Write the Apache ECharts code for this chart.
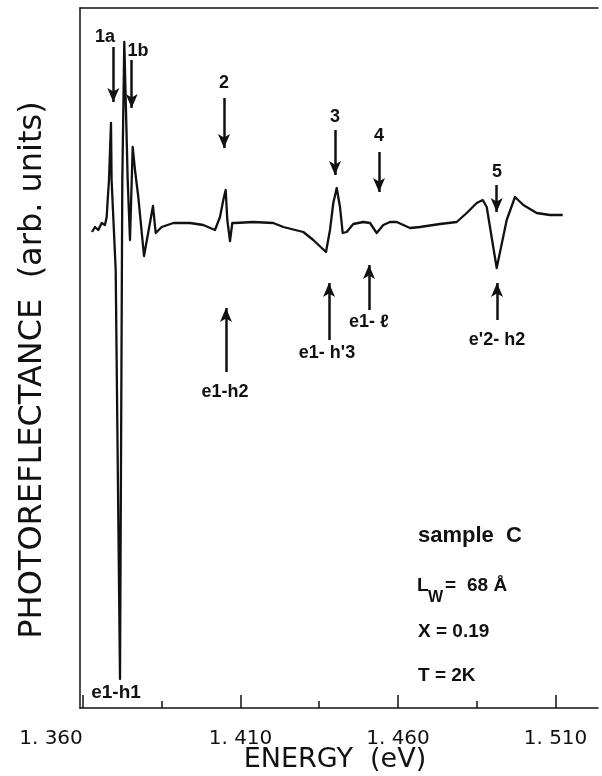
<!DOCTYPE html>
<html><head><meta charset="utf-8">
<script src="https://cdn.jsdelivr.net/npm/echarts@6/dist/echarts.min.js"></script>
<style>html,body{margin:0;padding:0;background:#fff;}#c{width:602px;height:776px;}</style>
</head><body><div id="c"></div>
<script>
// Spectrum (energy in eV, photoreflectance in arbitrary units)
const energy = [1.36286,1.36381,1.36486,1.36594,1.36698,1.36752,1.36784,1.36825,1.36889,1.36908,1.37038,1.37175,1.37248,1.37311,1.37419,1.37492,1.37578,1.37651,1.37756,1.37937,1.38222,1.38308,1.38498,1.38867,1.39397,1.39819,1.40190,1.40349,1.40454,1.40530,1.40581,1.40667,1.40740,1.40825,1.41406,1.42041,1.42359,1.42994,1.43311,1.43714,1.43841,1.43946,1.44054,1.44159,1.44244,1.44371,1.44581,1.44898,1.45111,1.45324,1.45533,1.45746,1.45959,1.46381,1.46698,1.47333,1.47863,1.48181,1.48498,1.48689,1.48816,1.49133,1.49451,1.49714,1.49978,1.50403,1.50825,1.51229];
const signal = [-7,-2,-5,2,0,8,25,45,102,45,-45,-454,45,183,45,-15,78,55,28,-31,19,-8,-2,2,2,0,-5,8,25,35,5,-16,2,2,3,2,-2,-7,-15,-27,-5,22,37,18,-8,-7,1,3,2,-8,0,3,3,-3,-2,1,3,12,22,25,18,-43,5,28,20,12,10,10];

// Axis
const xMin = 1.35905, xMax = 1.52349;
const yMin = -483, yMax = 217;
const tickMajor = [1.360, 1.410, 1.460, 1.510];
const tickMinor = [1.385, 1.435, 1.485];

// Peak markers (downward arrows)
const peakNames = ['1a','1b','2','3','4','5'];
const peakE = [1.36962,1.37546,1.40476,1.44000,1.45397,1.49133];
const peakTail = [178,165,127,95,73,40];
const peakTip = [123,117,77,50,33,13];
const peakLabelE = [1.36698,1.37746,1.40476,1.44000,1.45397,1.49143];
const peakLabelY = [188,174,142,108,89,53];

// Transition markers (upward arrows)
const transNames = ['e1-h2', "e1- h'3", 'e1- \u2113', "e'2- h2"];
const transE = [1.40540,1.43810,1.45079,1.49143];
const transTail = [-147,-115,-85,-95];
const transTip = [-83,-58,-40,-58];
const transLabelE = [1.40508,1.43746,1.45079,1.49143];
const transLabelY = [-167,-128,-97,-115];
const bottomLabel = {name:'e1-h1', e:1.37048, y:-468};

const chart = echarts.init(document.getElementById('c'), null, {renderer:'canvas'});
const ink = '#111';
const arrows = [];
peakE.forEach((e,i)=>arrows.push([{coord:[e,peakTail[i]]},{coord:[e,peakTip[i]]}]));
transE.forEach((e,i)=>arrows.push([{coord:[e,transTail[i]]},{coord:[e,transTip[i]]}]));

const labelData = [];
peakNames.forEach((n,i)=>labelData.push({name:n, value:[peakLabelE[i], peakLabelY[i]], label:{fontSize:18}}));
transNames.forEach((n,i)=>labelData.push({name:n, value:[transLabelE[i], transLabelY[i]], label:{fontSize:18}}));
labelData.push({name:bottomLabel.name, value:[bottomLabel.e, bottomLabel.y], label:{fontSize:19}});

const bold = 'Liberation Sans, Arial, sans-serif';
const tickFont = {fontSize:20, fontFamily:'DejaVu Sans', color:ink};
chart.setOption({
  animation:false,
  backgroundColor:'#fff',
  grid:{left:80, right:4, top:8, bottom:68, outerBoundsMode:'none', containLabel:false},
  xAxis:[
    {type:'value', min:xMin, max:xMax, position:'bottom',
     axisLine:{show:true, onZero:false, lineStyle:{color:ink, width:1.5}},
     axisTick:{show:true, inside:true, length:13, customValues:tickMajor, lineStyle:{color:ink, width:1.5}},
     axisLabel:{show:true, customValues:tickMajor, margin:21, fontSize:20, color:ink, fontFamily:'DejaVu Sans',
       formatter:v=>{
         const s = v.toFixed(3).replace('.', '. ');
         return v < 1.37 ? '{first|' + s + '}' : '{n|' + s + '}';
       },
       rich:{
         first:Object.assign({padding:[0,64,0,0]}, tickFont),
         n:Object.assign({}, tickFont)
       }},
     splitLine:{show:false}},
    {type:'value', min:xMin, max:xMax, position:'bottom',
     axisLine:{show:false, onZero:false},
     axisTick:{show:true, inside:true, length:7, customValues:tickMinor, lineStyle:{color:ink, width:1.5}},
     axisLabel:{show:false}, splitLine:{show:false}},
    {type:'value', min:xMin, max:xMax, position:'top',
     axisLine:{show:true, onZero:false, lineStyle:{color:ink, width:1.5}},
     axisTick:{show:false}, axisLabel:{show:false}, splitLine:{show:false}}
  ],
  yAxis:{type:'value', min:yMin, max:yMax, position:'left',
    axisLine:{show:true, onZero:false, lineStyle:{color:ink, width:1.5}},
    axisTick:{show:false}, axisLabel:{show:false}, splitLine:{show:false}},
  series:[
    {type:'line', xAxisIndex:0, data:energy.map((e,i)=>[e, signal[i]]), showSymbol:false, symbol:'none',
     lineStyle:{color:ink, width:2.3, join:'round'},
     markLine:{silent:true, symbol:['none','arrow'], symbolSize:[9,14], animation:false,
       label:{show:false}, lineStyle:{color:ink, width:2.5, type:'solid', opacity:1},
       emphasis:{disabled:true}, data:arrows}},
    {type:'scatter', xAxisIndex:0, data:labelData, symbolSize:0, silent:true,
     itemStyle:{opacity:1},
     label:{show:true, position:'inside', formatter:p=>p.name, color:ink, opacity:1, fontWeight:'bold', fontFamily:bold}}
  ],
  graphic:[
    {type:'text', x:33, y:370, rotation:Math.PI/2,
     style:{text:'PHOTOREFLECTANCE  (arb. units)', fill:ink, font:'32px "DejaVu Sans"', align:'center', verticalAlign:'middle'}},
    {type:'text', x:335, y:760,
     style:{text:'ENERGY  (eV)', fill:ink, font:'27px "DejaVu Sans"', align:'center', verticalAlign:'middle'}},
    {type:'text', x:470, y:536,
     style:{text:'sample  C', fill:ink, font:'bold 22px "Liberation Sans"', align:'center', verticalAlign:'middle'}},
    {type:'text', x:417, y:586,
     style:{text:'L', fill:ink, font:'bold 19px "Liberation Sans"', align:'left', verticalAlign:'middle'}},
    {type:'text', x:428, y:598,
     style:{text:'W', fill:ink, font:'bold 16px "Liberation Sans"', align:'left', verticalAlign:'middle'}},
    {type:'text', x:445, y:586,
     style:{text:'=', fill:ink, font:'bold 19px "Liberation Sans"', align:'left', verticalAlign:'middle'}},
    {type:'text', x:467, y:586,
     style:{text:'68 \u00C5', fill:ink, font:'bold 19px "Liberation Sans"', align:'left', verticalAlign:'middle'}},
    {type:'text', x:418, y:632,
     style:{text:'X = 0.19', fill:ink, font:'bold 19px "Liberation Sans"', align:'left', verticalAlign:'middle'}},
    {type:'text', x:418, y:676,
     style:{text:'T = 2K', fill:ink, font:'bold 19px "Liberation Sans"', align:'left', verticalAlign:'middle'}}
  ]
});
</script>
</body></html>
